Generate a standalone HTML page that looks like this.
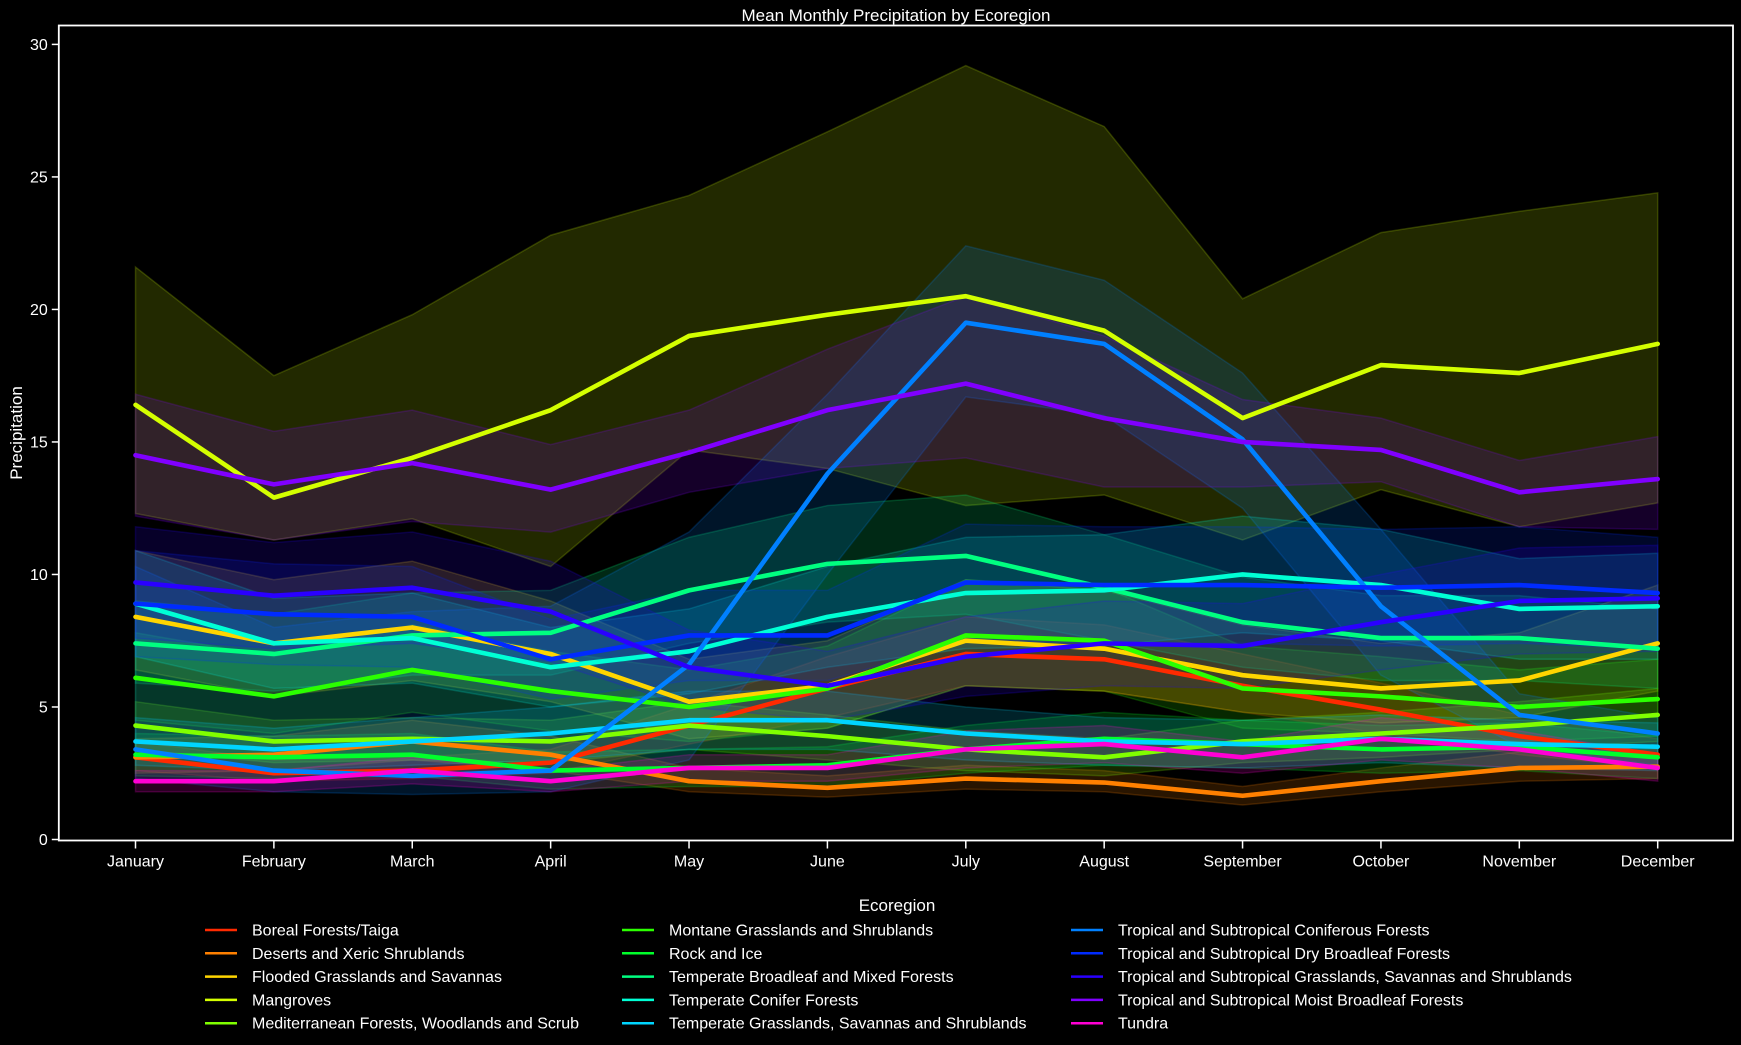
<!DOCTYPE html>
<html><head><meta charset="utf-8"><style>
html,body{margin:0;padding:0;background:#000;}
svg{display:block;font-family:"Liberation Sans",sans-serif;}
</style></head><body>
<svg id="chart" width="1741" height="1045" viewBox="0 0 1741 1045">
<rect width="1741" height="1045" fill="#000"/>
<text x="896" y="21" fill="#fff" font-size="17" text-anchor="middle">Mean Monthly Precipitation by Ecoregion</text>
<g id="plot"></g>
<g id="axes"></g>
<g id="legend"></g>
</svg>
<script>
const months = ["January","February","March","April","May","June","July","August","September","October","November","December"];
const yTicks = [0,5,10,15,20,25,30];
const names = ["Boreal Forests/Taiga","Deserts and Xeric Shrublands","Flooded Grasslands and Savannas","Mangroves","Mediterranean Forests, Woodlands and Scrub","Montane Grasslands and Shrublands","Rock and Ice","Temperate Broadleaf and Mixed Forests","Temperate Conifer Forests","Temperate Grasslands, Savannas and Shrublands","Tropical and Subtropical Coniferous Forests","Tropical and Subtropical Dry Broadleaf Forests","Tropical and Subtropical Grasslands, Savannas and Shrublands","Tropical and Subtropical Moist Broadleaf Forests","Tundra"];
const colors = ["#ff2a00","#ff8000","#ffd500","#d4ff00","#80ff00","#2bff00","#00ff2b","#00ff80","#00ffd5","#00d5ff","#0080ff","#002bff","#2a00ff","#8000ff","#ff00d4"];
const means = [
[3.1,2.5,2.6,2.9,4.3,5.7,7.0,6.8,5.8,4.9,3.9,3.2],
[3.1,3.2,3.7,3.2,2.2,1.95,2.3,2.15,1.65,2.2,2.7,2.75],
[8.4,7.4,8.0,7.0,5.2,5.8,7.5,7.2,6.2,5.7,6.0,7.4],
[16.4,12.9,14.4,16.2,19.0,19.8,20.5,19.2,15.9,17.9,17.6,18.7],
[4.3,3.7,3.8,3.7,4.3,3.9,3.4,3.1,3.7,4.0,4.3,4.7],
[6.1,5.4,6.4,5.6,5.0,5.7,7.7,7.5,5.7,5.4,5.0,5.3],
[3.2,3.1,3.2,2.6,2.7,2.8,3.4,3.8,3.6,3.4,3.5,3.1],
[7.4,7.0,7.7,7.8,9.4,10.4,10.7,9.5,8.2,7.6,7.6,7.2],
[8.9,7.4,7.6,6.5,7.1,8.4,9.3,9.4,10.0,9.6,8.7,8.8],
[3.7,3.4,3.7,4.0,4.5,4.5,4.0,3.7,3.6,3.8,3.6,3.5],
[3.4,2.6,2.4,2.6,6.6,13.8,19.5,18.7,15.1,8.8,4.7,4.0],
[8.9,8.5,8.4,6.8,7.7,7.7,9.7,9.6,9.6,9.5,9.6,9.3],
[9.7,9.2,9.5,8.6,6.5,5.8,6.9,7.4,7.3,8.2,9.0,9.1],
[14.5,13.4,14.2,13.2,14.6,16.2,17.2,15.9,15.0,14.7,13.1,13.6],
[2.2,2.2,2.6,2.2,2.7,2.7,3.4,3.6,3.1,3.8,3.4,2.7]
];
const lows = [
[2.6,2.2,2.3,2.5,3.6,4.6,5.8,5.6,4.8,4.0,3.2,2.7],
[2.5,2.6,3.0,2.6,1.8,1.6,1.9,1.8,1.3,1.8,2.2,2.3],
[6.4,5.4,6.0,5.2,3.8,4.2,5.8,5.6,4.8,4.4,4.6,5.6],
[12.3,11.3,12.1,10.3,14.7,14.0,12.6,13.0,11.3,13.2,11.8,12.7],
[3.4,2.9,3.0,2.9,3.4,3.0,2.6,2.4,2.9,3.1,3.4,3.7],
[4.5,4.0,4.8,4.1,3.7,4.2,5.8,5.6,4.2,4.0,3.7,3.9],
[2.4,2.3,2.4,1.9,2.0,2.0,2.5,2.8,2.7,2.5,2.6,2.3],
[5.9,5.6,6.2,6.2,7.4,8.2,8.5,7.5,6.5,6.0,6.0,5.7],
[6.9,5.7,5.9,5.0,5.5,6.5,7.2,7.3,7.8,7.5,6.8,6.8],
[2.8,2.6,2.8,3.0,3.4,3.4,3.0,2.8,2.7,2.9,2.7,2.6],
[2.3,1.8,1.7,1.8,3.0,10.0,16.7,16.0,12.5,6.2,3.5,2.8],
[6.9,6.6,6.5,5.3,6.0,6.0,7.5,7.4,7.4,7.3,7.4,7.2],
[7.6,7.2,7.4,6.7,5.0,4.5,5.4,5.8,5.7,6.4,7.0,7.1],
[12.2,11.3,12.0,11.6,13.1,14.0,14.4,13.3,13.3,13.5,11.8,11.7],
[1.8,1.8,2.1,1.8,2.2,2.2,2.7,2.9,2.5,3.0,2.7,2.2]
];
const highs = [
[3.7,3.0,3.1,3.4,5.1,6.9,8.4,8.1,7.0,5.9,4.7,3.8],
[3.8,3.9,4.5,3.9,2.7,2.4,2.8,2.6,2.0,2.7,3.3,3.4],
[10.9,9.8,10.5,9.0,6.8,7.5,9.8,9.4,8.1,7.4,7.8,9.6],
[21.6,17.5,19.8,22.8,24.3,26.7,29.2,26.9,20.4,22.9,23.7,24.4],
[5.2,4.5,4.6,4.5,5.2,4.7,4.1,3.8,4.5,4.8,5.2,5.7],
[7.8,6.9,8.1,7.1,6.4,7.3,9.8,9.5,7.3,6.9,6.4,6.8],
[4.0,3.9,4.0,3.3,3.4,3.5,4.3,4.8,4.5,4.3,4.4,3.9],
[9.0,8.5,9.3,9.4,11.4,12.6,13.0,11.5,9.9,9.2,9.2,8.7],
[10.9,9.1,9.3,8.0,8.7,10.3,11.4,11.5,12.2,11.7,10.6,10.8],
[4.6,4.2,4.6,5.0,5.6,5.6,5.0,4.6,4.5,4.7,4.5,4.4],
[10.3,8.0,8.6,8.8,11.6,16.8,22.4,21.1,17.6,11.7,5.5,4.6],
[10.9,10.4,10.3,8.3,9.4,9.4,11.9,11.8,11.8,11.7,11.8,11.4],
[11.8,11.2,11.6,10.5,7.9,7.1,8.4,9.0,8.9,10.0,11.0,11.1],
[16.8,15.4,16.2,14.9,16.2,18.5,20.5,19.0,16.6,15.9,14.3,15.2],
[2.6,2.6,3.1,2.6,3.2,3.2,4.1,4.3,3.7,4.6,4.1,3.2]
];
const NS="http://www.w3.org/2000/svg";
const L=58.8,R=1733,T=25.5,B=840.5;
const xS=i=>135.5+i*(1657.7-135.5)/11;
const yS=v=>839.5-v*(839.5-44.4)/30;
function mk(tag,attrs,parent){const e=document.createElementNS(NS,tag);for(const k in attrs)e.setAttribute(k,attrs[k]);parent.appendChild(e);return e;}
const plot=document.getElementById('plot'),axes=document.getElementById('axes'),leg=document.getElementById('legend');
names.forEach((n,s)=>{
  let pts=highs[s].map((v,i)=>xS(i)+','+yS(v));
  for(let i=11;i>=0;i--)pts.push(xS(i)+','+yS(lows[s][i]));
  const b=mk('polygon',{points:pts.join(' '),fill:colors[s],'fill-opacity':0.16,stroke:colors[s],'stroke-opacity':0.2,'stroke-width':1.5},plot);
  
  
});
names.forEach((n,s)=>{
  const p=mk('polyline',{points:means[s].map((v,i)=>xS(i)+','+yS(v)).join(' '),fill:'none',stroke:colors[s],'stroke-width':4.6,'stroke-linejoin':'round','stroke-linecap':'round'},plot);
  
  
});
const fr=mk('rect',{x:L,y:T,width:R-L,height:B-T,fill:'none',stroke:'#fff','stroke-width':1.8},axes);


yTicks.forEach(v=>{
  mk('line',{x1:L-7,x2:L,y1:yS(v),y2:yS(v),stroke:'#fff','stroke-width':1.5},axes);
  const t=mk('text',{x:L-11,y:yS(v)+5.5,fill:'#fff','font-size':16,'text-anchor':'end'},axes);
  t.textContent=v;
  
  
});
months.forEach((m,i)=>{
  mk('line',{x1:xS(i),x2:xS(i),y1:B,y2:B+8,stroke:'#fff','stroke-width':1.5},axes);
  const t=mk('text',{x:xS(i),y:B+26,fill:'#fff','font-size':16,'text-anchor':'middle'},axes);
  t.textContent=m;
  
  
});
const yt=mk('text',{x:0,y:0,fill:'#fff','font-size':17,'text-anchor':'middle',transform:'translate(22,433) rotate(-90)'},axes);
yt.textContent='Precipitation';


const lt=mk('text',{x:897,y:911,fill:'#fff','font-size':17,'text-anchor':'middle'},leg);
lt.textContent='Ecoregion';


const colX=[205,622,1071];
names.forEach((n,s)=>{
  const c=Math.floor(s/5),r=s%5,y=930+r*23.3;
  mk('line',{x1:colX[c],x2:colX[c]+32,y1:y,y2:y,stroke:colors[s],'stroke-width':2.5},leg);
  const t=mk('text',{x:colX[c]+47,y:y+5.5,fill:'#fff','font-size':16},leg);
  t.textContent=n;
  
  
});
</script>
</body></html>
